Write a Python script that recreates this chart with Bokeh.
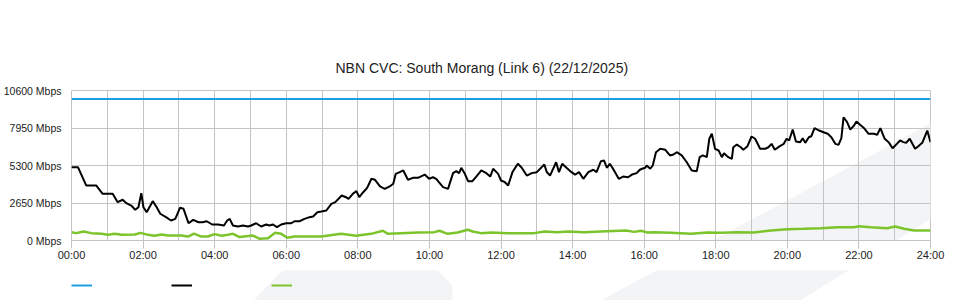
from bokeh.plotting import figure
from bokeh.layouts import column
from bokeh.models import (Range1d, FixedTicker, Legend, LegendItem,
                          PolyAnnotation)
from bokeh.embed import file_html
from bokeh.resources import INLINE

title_text = "NBN CVC: South Morang (Link 6) (22/12/2025)"

y_ticks = [0, 2650, 5300, 7950, 10600]
y_tick_labels = ["0 Mbps", "2650 Mbps", "5300 Mbps", "7950 Mbps", "10600 Mbps"]
x_ticks = list(range(0, 25, 2))
x_tick_labels = ["%02d:00" % h for h in x_ticks]

capacity_t = [0, 24]
capacity_v = [10000, 10000]

traffic_t = [0.0, 0.18, 0.41, 0.69, 0.87, 1.15, 1.29, 1.43, 1.53, 1.67, 1.78, 1.87, 1.95, 2.01,
             2.10, 2.27, 2.38, 2.48, 2.64, 2.78, 2.90, 3.03, 3.13, 3.27, 3.40, 3.55, 3.66, 3.78,
             3.93, 4.09, 4.26, 4.35, 4.42, 4.51, 4.65, 4.79, 4.93, 5.02, 5.16, 5.30, 5.44, 5.53,
             5.63, 5.74, 5.86, 6.00, 6.14, 6.23, 6.37, 6.51, 6.65, 6.75, 6.87, 6.98, 7.12, 7.26,
             7.37, 7.55, 7.67, 7.74, 7.86, 7.96, 8.04, 8.15, 8.26, 8.38, 8.48, 8.62, 8.75, 8.89,
             8.99, 9.06, 9.17, 9.27, 9.40, 9.54, 9.68, 9.87, 9.99, 10.10, 10.19, 10.38, 10.52,
             10.66, 10.75, 10.83, 10.89, 10.99, 11.08, 11.20, 11.31, 11.45, 11.59, 11.70, 11.78,
             11.92, 12.00, 12.11, 12.20, 12.32, 12.47, 12.58, 12.72, 12.86, 13.00, 13.21, 13.28,
             13.37, 13.54, 13.62, 13.71, 13.83, 13.97, 14.07, 14.18, 14.30, 14.44, 14.58, 14.67,
             14.79, 14.88, 14.96, 15.04, 15.13, 15.29, 15.41, 15.55, 15.66, 15.79, 15.88, 15.94,
             16.03, 16.07, 16.17, 16.24, 16.33, 16.45, 16.59, 16.72, 16.82, 16.91, 17.05, 17.19,
             17.33, 17.47, 17.55, 17.64, 17.75, 17.82, 17.89, 17.98, 18.08, 18.17, 18.23, 18.35,
             18.45, 18.49, 18.59, 18.70, 18.77, 18.88, 19.00, 19.10, 19.24, 19.38, 19.47, 19.56,
             19.65, 19.78, 19.90, 19.98, 20.05, 20.15, 20.24, 20.36, 20.43, 20.50, 20.60, 20.67,
             20.76, 20.89, 21.01, 21.13, 21.23, 21.34, 21.43, 21.51, 21.57, 21.67, 21.76, 21.85,
             21.93, 22.04, 22.16, 22.27, 22.42, 22.51, 22.60, 22.72, 22.83, 22.94, 23.06, 23.15,
             23.24, 23.32, 23.42, 23.57, 23.66, 23.77, 23.91, 24.00]
traffic_v = [5180, 5180, 3890, 3890, 3300, 3300, 2710, 2880, 2640, 2470, 2170, 2350, 3340, 2350,
             2000, 2780, 2350, 1890, 1650, 1410, 1530, 2310, 2240, 1220, 1460, 1290, 1290, 1360,
             1130, 1130, 1060, 1410, 1530, 1060, 990, 1060, 990, 1060, 1220, 990, 1130, 1060,
             1130, 940, 1130, 1220, 1220, 1360, 1360, 1530, 1650, 1700, 2000, 2050, 2120, 2590,
             2710, 3180, 3060, 2940, 3300, 3490, 3060, 3410, 3720, 4360, 4290, 3820, 3650, 3820,
             4010, 4710, 4830, 4950, 4290, 4430, 4430, 4660, 4360, 4470, 4360, 3770, 3650,
             4760, 4900, 4760, 5140, 4710, 4190, 4190, 4520, 4950, 4760, 4520, 5070,
             4710, 4240, 4120, 3890, 4830, 5420, 5140, 4590, 4760, 4830, 5370, 4830,
             4590, 5530, 4830, 5420, 5140, 4830, 4660, 4830, 4360, 4830, 5000, 4830,
             5600, 5650, 5140, 5420, 5070, 4360, 4520, 4470, 4660, 4760, 5000, 5070,
             5140, 5300, 5070, 5300, 6240, 6480, 6410, 6010, 6080, 6240, 6010, 5530,
             4950, 4900, 5890, 6010, 5890, 7190, 7540, 6480, 6360, 5890, 6170, 5890,
             5770, 6590, 6780, 6590, 6410, 6640, 7350, 7190, 6480, 6480, 6590, 6830,
             6410, 6650, 6830, 7190, 7070, 7840, 7000, 6950, 7230, 6900, 7300, 7370,
             7940, 7770, 7650, 7540, 7300, 6830, 6760, 7230, 8710, 8360, 7840, 8080,
             8410, 8170, 7890, 7540, 7540, 7470, 7940, 7190, 6950, 6520, 6830, 7070,
             6950, 6900, 7190, 6480, 6660, 6900, 7770, 6950]

upload_t = [0.0, 0.14, 0.33, 0.56, 0.84, 1.02, 1.21, 1.40, 1.77, 1.93, 2.14, 2.32, 2.51, 2.70,
            3.07, 3.26, 3.42, 3.63, 3.81, 4.00, 4.19, 4.37, 4.51, 4.70, 4.88, 5.07, 5.26, 5.49,
            5.69, 5.86, 6.03, 6.23, 6.61, 6.98, 7.53, 7.95, 8.37, 8.70, 8.84, 9.21, 9.68, 10.14,
            10.28, 10.51, 10.79, 11.07, 11.21, 11.44, 11.72, 12.19, 12.93, 13.21, 13.58, 13.86,
            14.32, 14.79, 15.49, 15.72, 15.91, 16.09, 16.28, 16.74, 17.30, 17.77, 18.14, 18.61,
            19.07, 19.54, 20.00, 20.46, 20.93, 21.40, 21.86, 22.00, 22.33, 22.79, 23.02, 23.26,
            23.54, 24.00]
upload_v = [590, 520, 640, 520, 470, 400, 470, 400, 420, 540, 400, 330, 420, 350,
            350, 280, 490, 280, 280, 450, 330, 400, 470, 240, 300, 350, 120, 160,
            540, 470, 190, 280, 280, 280, 470, 330, 470, 690, 470, 520, 570, 590,
            690, 470, 570, 760, 640, 520, 570, 520, 520, 640, 590, 640,
            590, 640, 710, 610, 690, 570, 590, 540, 470, 570, 540, 590,
            570, 710, 800, 830, 870, 940, 940, 1010, 940, 870, 990, 830,
            710, 710]

GRID = "#c4c4c4"
FONT = "Liberation Sans"
BLUE = "#1ba1e2"
GREEN = "#7cc42c"
WM = "#f3f4f6"

# ---------------- main chart ----------------
p = figure(width=960, height=270, output_backend="svg", toolbar_location=None,
           x_range=Range1d(0, 24), y_range=Range1d(0, 10600),
           min_border_left=70, min_border_right=30, min_border_top=90,
           min_border_bottom=30, background_fill_color=None,
           border_fill_color="white", outline_line_color=GRID)

# faint background watermark (decoration), drawn beneath the grid
p.add_layout(PolyAnnotation(xs=[600, 960, 960, 800], ys=[300, 107, 200, 300],
                            xs_units="canvas", ys_units="canvas",
                            fill_color=WM, fill_alpha=1, line_color=None,
                            level="image"))

p.title.text = title_text
p.title.align = "left"
p.title.offset = 264
p.title.standoff = 30
p.title.text_font = FONT
p.title.text_font_size = "14px"
p.title.text_font_style = "normal"
p.title.text_color = "#222222"

r_cap = p.line(capacity_t, capacity_v, line_color=BLUE, line_width=2)
r_tr = p.line(traffic_t, traffic_v, line_color="black", line_width=2)
r_up = p.line(upload_t, upload_v, line_color=GREEN, line_width=2.5)

p.yaxis.ticker = FixedTicker(ticks=y_ticks)
p.yaxis.major_label_overrides = {v: s for v, s in zip(y_ticks, y_tick_labels)}
p.yaxis.axis_line_color = None
p.yaxis.major_tick_line_color = None
p.yaxis.minor_tick_line_color = None
p.yaxis.major_tick_out = 0
p.yaxis.major_tick_in = 0
p.yaxis.major_label_standoff = 10
p.yaxis.major_label_text_font = FONT
p.yaxis.major_label_text_font_size = "10.5px"
p.yaxis.major_label_text_color = "#222222"

p.xaxis.ticker = FixedTicker(ticks=x_ticks)
p.xaxis.major_label_overrides = {v: s for v, s in zip(x_ticks, x_tick_labels)}
p.xaxis.axis_line_color = GRID
p.xaxis.major_tick_line_color = GRID
p.xaxis.major_tick_out = 8
p.xaxis.major_tick_in = 0
p.xaxis.minor_tick_line_color = None
p.xaxis.major_label_standoff = 0
p.xaxis.major_label_text_font = FONT
p.xaxis.major_label_text_font_size = "11px"
p.xaxis.major_label_text_color = "#222222"

p.xgrid.ticker = FixedTicker(ticks=list(range(25)))
p.xgrid.grid_line_color = GRID
p.ygrid.grid_line_color = GRID

# ---------------- legend strip ----------------
lg = figure(width=960, height=30, output_backend="svg", toolbar_location=None,
            x_range=Range1d(0, 24), y_range=Range1d(-2, -1),
            x_axis_type=None, y_axis_type=None,
            min_border_left=70, min_border_right=30, min_border_top=0,
            min_border_bottom=0, background_fill_color=None,
            border_fill_color="white", outline_line_color=None)
lg.grid.visible = False
lg.add_layout(PolyAnnotation(xs=[600, 960, 960, 800], ys=[30, -163, -70, 30],
                             xs_units="canvas", ys_units="canvas",
                             fill_color=WM, fill_alpha=1, line_color=None,
                             level="image"))
lg.add_layout(PolyAnnotation(xs=[253, 280, 310, 340, 370, 413, 430, 452, 452],
                             ys=[30, 2, -15, -25, -29, -28, -8, 15, 30],
                             xs_units="canvas", ys_units="canvas",
                             fill_color=WM, fill_alpha=1, line_color=None,
                             level="image"))

# legend keys (series drawn out of view of this strip, only their keys show)
k_cap = lg.line(capacity_t, capacity_v, line_color=BLUE, line_width=2)
k_tr = lg.line(traffic_t, traffic_v, line_color="black", line_width=2)
k_up = lg.line(upload_t, upload_v, line_color=GREEN, line_width=2)

legend = Legend(items=[LegendItem(label=" ", renderers=[k_cap]),
                       LegendItem(label=" ", renderers=[k_tr]),
                       LegendItem(label=" ", renderers=[k_up])],
                orientation="horizontal", location="left",
                padding=0, margin=0, spacing=0, glyph_width=21, glyph_height=10,
                label_standoff=0, label_width=79, label_height=10,
                label_text_font_size="8px",
                border_line_color=None, background_fill_color=None)
lg.add_layout(legend, "center")

layout = column(p, lg, spacing=0)
open("out.html", "w").write(file_html(layout, INLINE))
